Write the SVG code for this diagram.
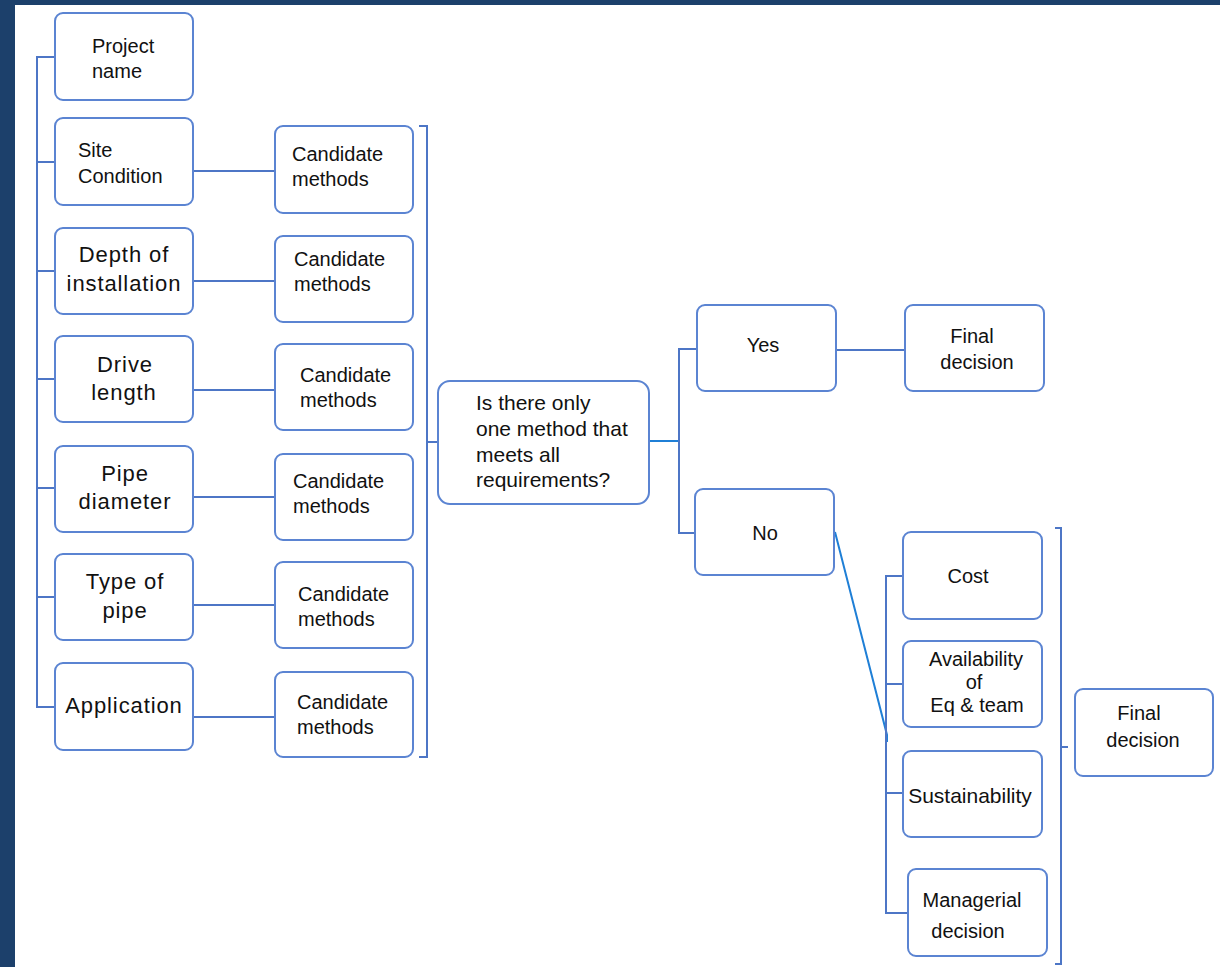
<svg xmlns="http://www.w3.org/2000/svg" width="1220" height="967" viewBox="0 0 1220 967">
<style>
.bx{fill:#ffffff;stroke:#5b84d2;stroke-width:2}
.t{font-family:"Liberation Sans",Arial,sans-serif;font-size:20px;fill:#111111}
.L{font-size:22px;letter-spacing:0.9px}
.M{font-size:21px}
.c{text-anchor:middle}
.ln{fill:none;stroke:#4d76c6;stroke-width:2}
.lb{fill:none;stroke:#1f7fd6;stroke-width:2}
</style>
<rect x="0" y="0" width="1220" height="967" fill="#ffffff"/>
<rect x="0" y="0" width="1220" height="5" fill="#1c406b"/>
<rect x="0" y="0" width="15" height="967" fill="#1c406b"/>

<g id="connectors">
<path class="ln" d="M55 57H37V707H55M37 162H55M37 271H55M37 379H55M37 488H55M37 597H55"/>
<path class="ln" d="M193 171H275M193 281H275M193 390H275M193 497H275M193 605H275M193 717H275"/>
<path class="ln" d="M419 126H427V757H419M427 442H437"/>
<path class="lb" d="M649 441H679"/>
<path class="ln" d="M697 349H679V533H695"/>
<path class="ln" d="M836 350H905"/>
<path class="lb" d="M835 532L887 735L887 742"/>
<path class="ln" d="M903 576H886V913H910M886 684H903M886 793H903"/>
<path class="ln" d="M1055 528H1061V964H1055M1061 747H1068"/>
</g>

<g id="n-project"><rect class="bx" x="55" y="13" width="138" height="87" rx="8"/><text class="t" x="92" y="53">Project</text><text class="t" x="92" y="78">name</text></g>
<g id="n-site"><rect class="bx" x="55" y="118" width="138" height="87" rx="8"/><text class="t" x="78" y="157">Site</text><text class="t" x="78" y="183">Condition</text></g>
<g id="n-depth"><rect class="bx" x="55" y="228" width="138" height="86" rx="8"/><text class="t L c" x="124" y="262">Depth of</text><text class="t L c" x="124" y="291">installation</text></g>
<g id="n-drive"><rect class="bx" x="55" y="336" width="138" height="86" rx="8"/><text class="t L c" x="125" y="372">Drive</text><text class="t L c" x="124" y="400">length</text></g>
<g id="n-pipe"><rect class="bx" x="55" y="446" width="138" height="86" rx="8"/><text class="t L c" x="125" y="481">Pipe</text><text class="t L c" x="125" y="509">diameter</text></g>
<g id="n-type"><rect class="bx" x="55" y="554" width="138" height="86" rx="8"/><text class="t L c" x="125" y="589">Type of</text><text class="t L c" x="125" y="618">pipe</text></g>
<g id="n-app"><rect class="bx" x="55" y="663" width="138" height="87" rx="8"/><text class="t L c" x="124" y="713">Application</text></g>

<g id="n-cand1"><rect class="bx" x="275" y="126" width="138" height="87" rx="8"/><text class="t" x="292" y="161">Candidate</text><text class="t" x="292" y="186">methods</text></g>
<g id="n-cand2"><rect class="bx" x="275" y="236" width="138" height="86" rx="8"/><text class="t" x="294" y="266">Candidate</text><text class="t" x="294" y="291">methods</text></g>
<g id="n-cand3"><rect class="bx" x="275" y="344" width="138" height="86" rx="8"/><text class="t" x="300" y="382">Candidate</text><text class="t" x="300" y="407">methods</text></g>
<g id="n-cand4"><rect class="bx" x="275" y="454" width="138" height="86" rx="8"/><text class="t" x="293" y="488">Candidate</text><text class="t" x="293" y="513">methods</text></g>
<g id="n-cand5"><rect class="bx" x="275" y="562" width="138" height="86" rx="8"/><text class="t" x="298" y="601">Candidate</text><text class="t" x="298" y="626">methods</text></g>
<g id="n-cand6"><rect class="bx" x="275" y="672" width="138" height="85" rx="8"/><text class="t" x="297" y="709">Candidate</text><text class="t" x="297" y="734">methods</text></g>

<g id="n-question"><rect class="bx" x="438" y="381" width="211" height="123" rx="12"/><text class="t M" x="476" y="410">Is there only</text><text class="t M" x="476" y="436">one method that</text><text class="t M" x="476" y="462">meets all</text><text class="t M" x="476" y="487">requirements?</text></g>

<g id="n-yes"><rect class="bx" x="697" y="305" width="139" height="86" rx="8"/><text class="t c" x="763" y="352">Yes</text></g>
<g id="n-final1"><rect class="bx" x="905" y="305" width="139" height="86" rx="8"/><text class="t c" x="972" y="343">Final</text><text class="t c" x="977" y="369">decision</text></g>
<g id="n-no"><rect class="bx" x="695" y="489" width="139" height="86" rx="8"/><text class="t c" x="765" y="540">No</text></g>

<g id="n-cost"><rect class="bx" x="903" y="532" width="139" height="87" rx="8"/><text class="t c" x="968" y="583">Cost</text></g>
<g id="n-avail"><rect class="bx" x="903" y="641" width="139" height="86" rx="8"/><text class="t c" x="976" y="666">Availability</text><text class="t c" x="974" y="689">of</text><text class="t c" x="977" y="712">Eq &amp; team</text></g>
<g id="n-sust"><rect class="bx" x="903" y="751" width="139" height="86" rx="8"/><text class="t M c" x="970" y="803">Sustainability</text></g>
<g id="n-manag"><rect class="bx" x="908" y="869" width="139" height="87" rx="8"/><text class="t c" x="972" y="907">Managerial</text><text class="t c" x="968" y="938">decision</text></g>
<g id="n-final2"><rect class="bx" x="1075" y="689" width="138" height="87" rx="8"/><text class="t c" x="1139" y="720">Final</text><text class="t c" x="1143" y="747">decision</text></g>
</svg>
